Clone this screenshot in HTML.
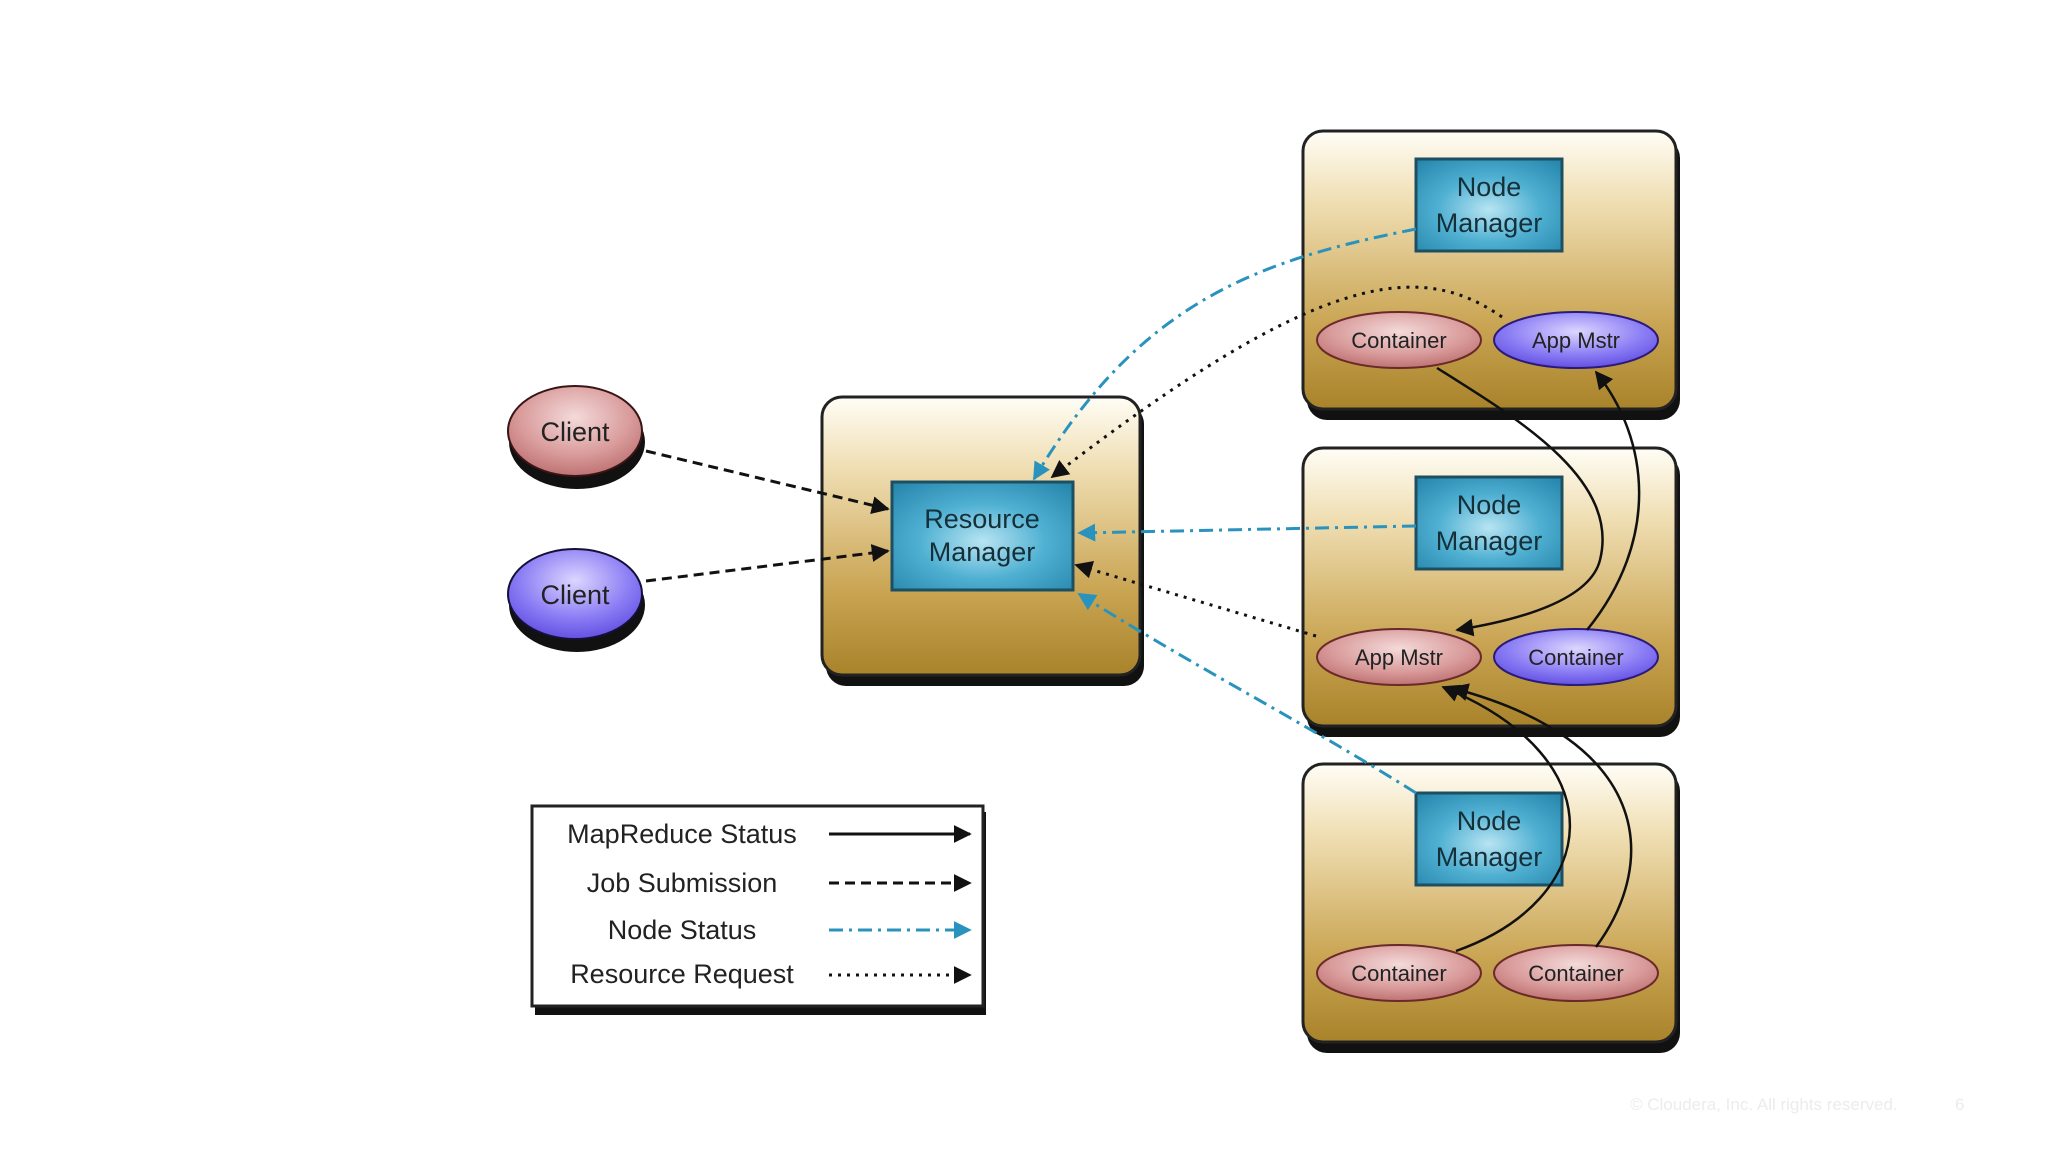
<!DOCTYPE html>
<html><head><meta charset="utf-8"><style>
html,body{margin:0;padding:0;background:#fff;}
svg{display:block;font-family:"Liberation Sans",Arial,sans-serif;}
</style></head><body>
<svg width="2048" height="1153" viewBox="0 0 2048 1153" xmlns="http://www.w3.org/2000/svg">
<defs>
<linearGradient id="box" x1="0" y1="0" x2="0" y2="1">
<stop offset="0" stop-color="#fffdf6"/><stop offset="0.25" stop-color="#f0dfb4"/><stop offset="0.7" stop-color="#c9a452"/><stop offset="1" stop-color="#a9832a"/>
</linearGradient>
<radialGradient id="teal" cx="0.5" cy="0.55" r="0.7">
<stop offset="0" stop-color="#b8e4f2"/><stop offset="0.5" stop-color="#4fb0d2"/><stop offset="1" stop-color="#2787ad"/>
</radialGradient>
<radialGradient id="red" cx="0.5" cy="0.35" r="0.7">
<stop offset="0" stop-color="#f4dada"/><stop offset="0.6" stop-color="#d99a9a"/><stop offset="1" stop-color="#b86a6a"/>
</radialGradient>
<radialGradient id="blue" cx="0.5" cy="0.35" r="0.7">
<stop offset="0" stop-color="#dcd6ff"/><stop offset="0.6" stop-color="#8a7cf4"/><stop offset="1" stop-color="#5c48e0"/>
</radialGradient>
<marker id="ab" viewBox="0 0 10 10" refX="9" refY="5" markerWidth="7" markerHeight="7" orient="auto" markerUnits="userSpaceOnUse"><path d="M0,0L10,5L0,10z" fill="#111"/></marker>
<marker id="ak" viewBox="0 0 10 10" refX="9" refY="5" markerWidth="18" markerHeight="18" orient="auto" markerUnits="userSpaceOnUse"><path d="M0,0L10,5L0,10z" fill="#111"/></marker>
<marker id="at" viewBox="0 0 10 10" refX="9" refY="5" markerWidth="18" markerHeight="18" orient="auto" markerUnits="userSpaceOnUse"><path d="M0,0L10,5L0,10z" fill="#2a93bd"/></marker>
</defs>

<!-- RM box -->
<rect x="826" y="404" width="318" height="282" rx="20" fill="#111"/>
<rect x="822" y="397" width="318" height="278" rx="20" fill="url(#box)" stroke="#222" stroke-width="3"/>
<rect x="892" y="482" width="181" height="108" fill="url(#teal)" stroke="#1d4f63" stroke-width="3"/>
<text x="982" y="528" font-size="27" text-anchor="middle" fill="#16303a">Resource</text>
<text x="982" y="561" font-size="27" text-anchor="middle" fill="#16303a">Manager</text>

<!-- NM boxes -->
<g>
<rect x="1307" y="138" width="373" height="282" rx="20" fill="#111"/>
<rect x="1303" y="131" width="373" height="278" rx="20" fill="url(#box)" stroke="#222" stroke-width="3"/>
<rect x="1416" y="159" width="146" height="92" fill="url(#teal)" stroke="#1d4f63" stroke-width="3"/>
<text x="1489" y="196" font-size="27" text-anchor="middle" fill="#16303a">Node</text>
<text x="1489" y="232" font-size="27" text-anchor="middle" fill="#16303a">Manager</text>
</g>
<g>
<rect x="1307" y="455" width="373" height="282" rx="20" fill="#111"/>
<rect x="1303" y="448" width="373" height="278" rx="20" fill="url(#box)" stroke="#222" stroke-width="3"/>
<rect x="1416" y="477" width="146" height="92" fill="url(#teal)" stroke="#1d4f63" stroke-width="3"/>
<text x="1489" y="514" font-size="27" text-anchor="middle" fill="#16303a">Node</text>
<text x="1489" y="550" font-size="27" text-anchor="middle" fill="#16303a">Manager</text>
</g>
<g>
<rect x="1307" y="771" width="373" height="282" rx="20" fill="#111"/>
<rect x="1303" y="764" width="373" height="278" rx="20" fill="url(#box)" stroke="#222" stroke-width="3"/>
<rect x="1416" y="793" width="146" height="92" fill="url(#teal)" stroke="#1d4f63" stroke-width="3"/>
<text x="1489" y="830" font-size="27" text-anchor="middle" fill="#16303a">Node</text>
<text x="1489" y="866" font-size="27" text-anchor="middle" fill="#16303a">Manager</text>
</g>

<!-- small ellipses -->
<g font-size="22" text-anchor="middle" fill="#222">
<ellipse cx="1399" cy="340" rx="82" ry="28" fill="url(#red)" stroke="#6b2a2a" stroke-width="2"/><text x="1399" y="348">Container</text>
<ellipse cx="1576" cy="340" rx="82" ry="28" fill="url(#blue)" stroke="#2a1a7a" stroke-width="2"/><text x="1576" y="348">App Mstr</text>
<ellipse cx="1399" cy="657" rx="82" ry="28" fill="url(#red)" stroke="#6b2a2a" stroke-width="2"/><text x="1399" y="665">App Mstr</text>
<ellipse cx="1576" cy="657" rx="82" ry="28" fill="url(#blue)" stroke="#2a1a7a" stroke-width="2"/><text x="1576" y="665">Container</text>
<ellipse cx="1399" cy="973" rx="82" ry="28" fill="url(#red)" stroke="#6b2a2a" stroke-width="2"/><text x="1399" y="981">Container</text>
<ellipse cx="1576" cy="973" rx="82" ry="28" fill="url(#red)" stroke="#6b2a2a" stroke-width="2"/><text x="1576" y="981">Container</text>
</g>

<!-- clients -->
<ellipse cx="577" cy="442" rx="68" ry="47" fill="#111"/>
<ellipse cx="575" cy="431" rx="67" ry="45" fill="url(#red)" stroke="#3a1515" stroke-width="2"/>
<text x="575" y="441" font-size="27" text-anchor="middle" fill="#222">Client</text>
<ellipse cx="577" cy="605" rx="68" ry="47" fill="#111"/>
<ellipse cx="575" cy="594" rx="67" ry="45" fill="url(#blue)" stroke="#15103a" stroke-width="2"/>
<text x="575" y="604" font-size="27" text-anchor="middle" fill="#222">Client</text>

<!-- connectors -->
<g fill="none" stroke-width="3">
<path d="M646,451 L888,509" stroke="#111" stroke-dasharray="10,6" marker-end="url(#ak)"/>
<path d="M646,581 L888,551" stroke="#111" stroke-dasharray="10,6" marker-end="url(#ak)"/>
<path d="M1416,229 C1260,260 1140,300 1034,479" stroke="#2a93bd" stroke-dasharray="14,6,3,6" marker-end="url(#at)"/>
<path d="M1502,317 C1420,260 1320,270 1052,477" stroke="#111" stroke-dasharray="3,6" marker-end="url(#ak)"/>
<path d="M1416,526 L1079,533" stroke="#2a93bd" stroke-dasharray="14,6,3,6" marker-end="url(#at)"/>
<path d="M1316,636 L1076,565" stroke="#111" stroke-dasharray="3,6" marker-end="url(#ak)"/>
<path d="M1416,793 C1300,720 1200,670 1079,594" stroke="#2a93bd" stroke-dasharray="14,6,3,6" marker-end="url(#at)"/>
<path d="M1437,368 C1520,420 1620,480 1600,560 C1590,600 1520,620 1457,630" stroke="#111" stroke-width="2.5" marker-end="url(#ak)"/>
<path d="M1587,630 C1660,540 1650,440 1596,372" stroke="#111" stroke-width="2.5" marker-end="url(#ak)"/>
<path d="M1456,951 C1600,900 1620,760 1443,687" stroke="#111" stroke-width="2.5" marker-end="url(#ak)"/>
<path d="M1596,947 C1660,860 1650,740 1452,688" stroke="#111" stroke-width="2.5" marker-end="url(#ak)"/>
</g>

<!-- legend -->
<rect x="535" y="812" width="451" height="203" fill="#111"/>
<rect x="532" y="806" width="451" height="200" fill="#fff" stroke="#222" stroke-width="3"/>
<g font-size="27" text-anchor="middle" fill="#222">
<text x="682" y="843">MapReduce Status</text>
<text x="682" y="892">Job Submission</text>
<text x="682" y="939">Node Status</text>
<text x="682" y="983">Resource Request</text>
</g>
<g fill="none" stroke-width="3">
<path d="M829,834 L970,834" stroke="#111" marker-end="url(#ak)"/>
<path d="M829,883 L970,883" stroke="#111" stroke-dasharray="10,6" marker-end="url(#ak)"/>
<path d="M829,930 L970,930" stroke="#2a93bd" stroke-dasharray="14,6,3,6" marker-end="url(#at)"/>
<path d="M829,975 L970,975" stroke="#111" stroke-dasharray="3,6" marker-end="url(#ak)"/>
</g>

<text x="1630" y="1110" font-size="17" fill="#ececf0">© Cloudera, Inc. All rights reserved.</text>
<text x="1955" y="1110" font-size="17" fill="#ececf0">6</text>
</svg>
</body></html>
